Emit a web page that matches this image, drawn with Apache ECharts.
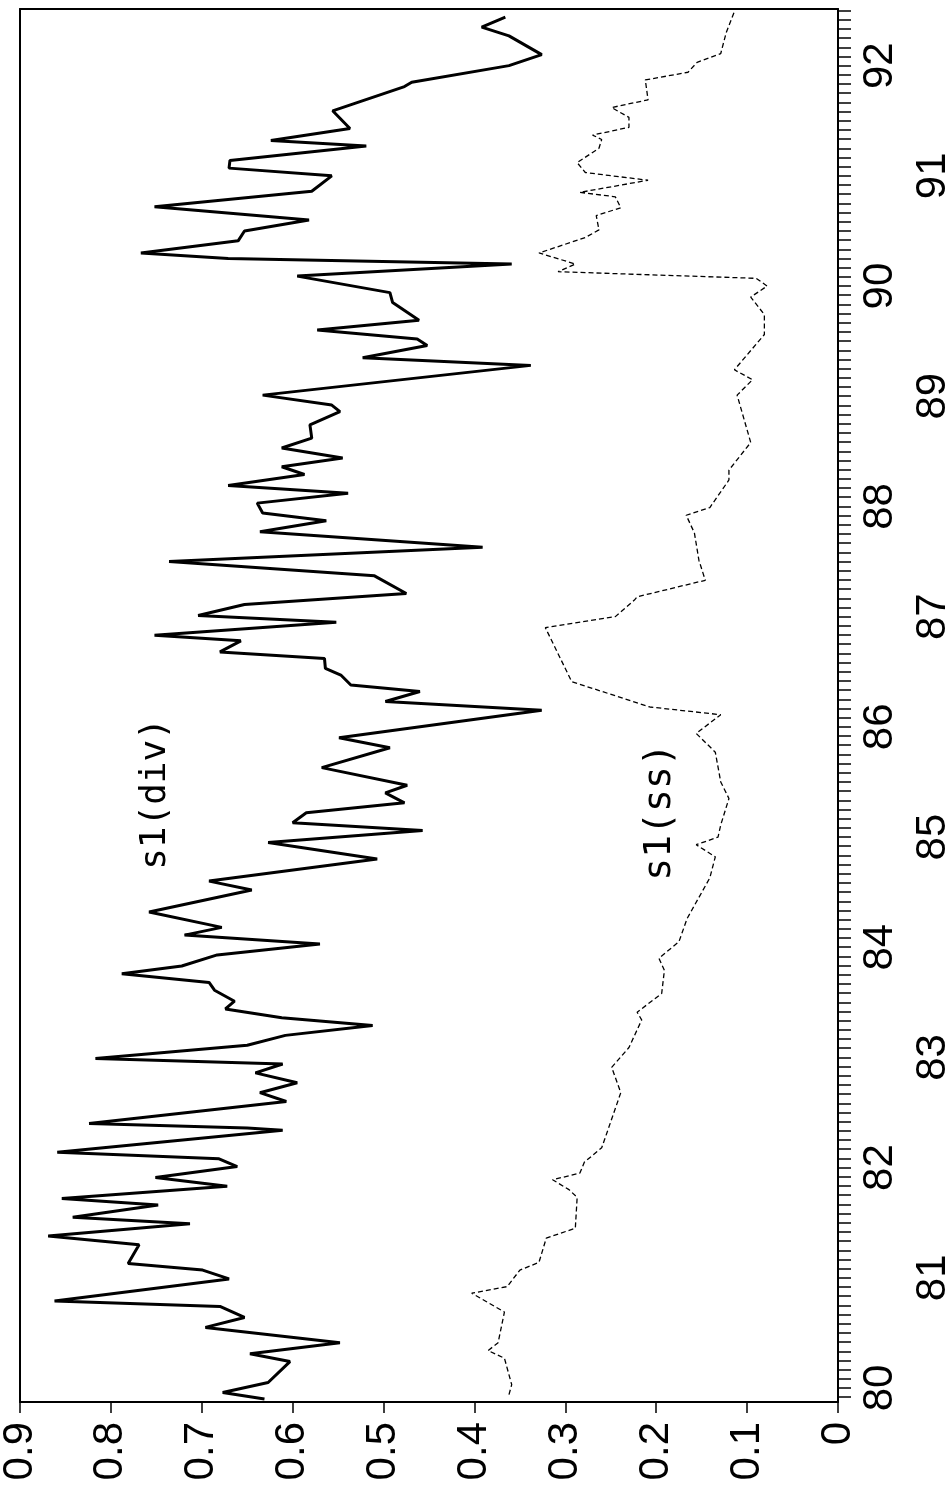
<!DOCTYPE html>
<html>
<head>
<meta charset="utf-8">
<script src="https://cdn.jsdelivr.net/npm/echarts@6/dist/echarts.min.js"></script>
<style>
  html, body { margin: 0; padding: 0; background: #fff; }
  #chart { width: 951px; height: 1497px; }
</style>
</head>
<body>
<div id="chart"></div>
<script>
// s1(div): time (year) and value
const divYears = [79.90, 79.96, 80.05, 80.24, 80.31, 80.41, 80.55, 80.64, 80.74, 80.79, 80.99, 81.07, 81.13, 81.30, 81.38, 81.49, 81.55, 81.66, 81.72, 81.83, 81.91, 82.01, 82.08, 82.14, 82.34, 82.36, 82.40, 82.60, 82.68, 82.77, 82.86, 82.94, 82.99, 83.11, 83.20, 83.29, 83.36, 83.44, 83.51, 83.61, 83.68, 83.76, 83.83, 83.93, 84.03, 84.11, 84.18, 84.32, 84.52, 84.60, 84.80, 84.95, 85.06, 85.13, 85.22, 85.31, 85.40, 85.47, 85.63, 85.81, 85.90, 86.15, 86.23, 86.32, 86.38, 86.47, 86.53, 86.62, 86.68, 86.78, 86.83, 86.95, 87.01, 87.11, 87.21, 87.37, 87.50, 87.63, 87.77, 87.87, 87.94, 88.03, 88.12, 88.19, 88.29, 88.36, 88.44, 88.53, 88.62, 88.74, 88.86, 88.92, 89.01, 89.28, 89.35, 89.46, 89.52, 89.60, 89.69, 89.85, 89.94, 90.09, 90.20, 90.25, 90.30, 90.41, 90.50, 90.60, 90.72, 90.86, 91.00, 91.07, 91.14, 91.27, 91.32, 91.43, 91.59, 91.81, 91.85, 92.00, 92.10, 92.27, 92.35, 92.44];
const divValues = [0.631, 0.677, 0.627, 0.603, 0.647, 0.548, 0.696, 0.653, 0.680, 0.862, 0.670, 0.699, 0.781, 0.769, 0.869, 0.713, 0.842, 0.748, 0.854, 0.672, 0.751, 0.661, 0.681, 0.859, 0.611, 0.650, 0.824, 0.607, 0.636, 0.595, 0.641, 0.611, 0.817, 0.650, 0.608, 0.512, 0.612, 0.674, 0.664, 0.686, 0.692, 0.788, 0.722, 0.683, 0.570, 0.719, 0.678, 0.758, 0.645, 0.692, 0.507, 0.627, 0.457, 0.600, 0.585, 0.477, 0.498, 0.474, 0.568, 0.493, 0.549, 0.326, 0.498, 0.460, 0.536, 0.547, 0.564, 0.565, 0.680, 0.657, 0.752, 0.552, 0.704, 0.653, 0.475, 0.510, 0.736, 0.391, 0.636, 0.563, 0.633, 0.639, 0.539, 0.671, 0.587, 0.612, 0.545, 0.612, 0.579, 0.581, 0.548, 0.557, 0.633, 0.338, 0.523, 0.452, 0.463, 0.573, 0.461, 0.490, 0.493, 0.595, 0.359, 0.671, 0.767, 0.660, 0.653, 0.582, 0.752, 0.579, 0.557, 0.670, 0.669, 0.519, 0.624, 0.537, 0.556, 0.477, 0.469, 0.362, 0.326, 0.362, 0.392, 0.366];

// s1(ss): time (year) and value
const ssYears = [79.94, 80.03, 80.27, 80.34, 80.41, 80.69, 80.86, 80.92, 81.07, 81.14, 81.36, 81.45, 81.73, 81.80, 81.89, 81.95, 82.05, 82.18, 82.25, 82.68, 82.91, 83.09, 83.34, 83.41, 83.58, 83.79, 83.90, 84.05, 84.26, 84.63, 84.82, 84.93, 85.00, 85.11, 85.35, 85.50, 85.77, 85.94, 86.11, 86.18, 86.41, 86.90, 87.00, 87.15, 87.18, 87.33, 87.51, 87.76, 87.92, 87.99, 88.24, 88.33, 88.58, 89.01, 89.15, 89.24, 89.56, 89.74, 89.90, 90.00, 90.07, 90.13, 90.20, 90.30, 90.44, 90.51, 90.64, 90.71, 90.81, 90.85, 90.96, 91.03, 91.12, 91.25, 91.33, 91.37, 91.44, 91.53, 91.62, 91.69, 91.87, 91.94, 92.03, 92.11, 92.30, 92.49];
const ssValues = [0.362, 0.359, 0.367, 0.385, 0.374, 0.367, 0.403, 0.364, 0.350, 0.329, 0.321, 0.289, 0.287, 0.296, 0.314, 0.284, 0.279, 0.260, 0.257, 0.239, 0.249, 0.230, 0.216, 0.221, 0.194, 0.191, 0.197, 0.175, 0.166, 0.141, 0.135, 0.156, 0.132, 0.129, 0.120, 0.129, 0.135, 0.156, 0.129, 0.207, 0.293, 0.322, 0.245, 0.224, 0.221, 0.146, 0.153, 0.158, 0.167, 0.141, 0.120, 0.120, 0.096, 0.111, 0.094, 0.114, 0.081, 0.081, 0.096, 0.078, 0.090, 0.308, 0.289, 0.329, 0.278, 0.263, 0.266, 0.239, 0.245, 0.284, 0.209, 0.278, 0.287, 0.263, 0.260, 0.270, 0.230, 0.230, 0.249, 0.209, 0.212, 0.165, 0.155, 0.129, 0.123, 0.114];

// tick labels
const valueTicks = [0, 0.1, 0.2, 0.3, 0.4, 0.5, 0.6, 0.7, 0.8, 0.9];
const evenYears = [80, 82, 84, 86, 88, 90, 92];
const oddYears = [81, 83, 85, 87, 89, 91];

// monthly ticks on the time axis
const monthTicks = [];
for (let m = 80 * 12 - 1; m <= 92.5 * 12; m++) monthTicks.push(m / 12);

const tMin = 79.873;
const tMax = 92.514;

const chart = echarts.init(document.getElementById('chart'));

const labelFont = {
  color: '#000',
  fontSize: 42,
  fontFamily: '"Liberation Sans", Arial, sans-serif',
  rotate: 90
};

chart.setOption({
  backgroundColor: '#fff',
  animation: false,
  grid: {
    left: 20,
    right: 113,
    top: 9,
    bottom: 95,
    containLabel: false,
    outerBoundsMode: 'none'
  },
  xAxis: [
    {
      type: 'value',
      position: 'bottom',
      inverse: true,
      min: 0,
      max: 0.9,
      interval: 0.1,
      splitLine: { show: false },
      axisLine: { show: true, lineStyle: { color: '#000', width: 2 } },
      axisTick: { show: true, inside: false, length: 11, lineStyle: { color: '#000', width: 1.5 } },
      axisLabel: Object.assign({}, labelFont, {
        margin: 20,
        customValues: valueTicks,
        formatter: function (v) { return v === 0 ? '0' : v.toFixed(1); }
      })
    },
    {
      type: 'value',
      position: 'top',
      inverse: true,
      min: 0,
      max: 0.9,
      splitLine: { show: false },
      axisLine: { show: true, lineStyle: { color: '#000', width: 2 } },
      axisTick: { show: false },
      axisLabel: { show: false }
    }
  ],
  yAxis: [
    {
      type: 'value',
      position: 'right',
      min: tMin,
      max: tMax,
      splitLine: { show: false },
      axisLine: { show: true, lineStyle: { color: '#000', width: 2 } },
      axisTick: {
        show: true,
        inside: false,
        length: 13,
        customValues: monthTicks,
        lineStyle: { color: '#000', width: 1.5 }
      },
      axisLabel: Object.assign({}, labelFont, {
        margin: 21,
        customValues: evenYears,
        formatter: function (v) { return String(Math.round(v)); }
      })
    },
    {
      type: 'value',
      position: 'right',
      min: tMin,
      max: tMax,
      splitLine: { show: false },
      axisLine: { show: false },
      axisTick: { show: false },
      axisLabel: Object.assign({}, labelFont, {
        margin: 74,
        customValues: oddYears,
        formatter: function (v) { return String(Math.round(v)); }
      })
    },
    {
      type: 'value',
      position: 'left',
      min: tMin,
      max: tMax,
      splitLine: { show: false },
      axisLine: { show: true, lineStyle: { color: '#000', width: 2 } },
      axisTick: { show: false },
      axisLabel: { show: false }
    }
  ],
  series: [
    {
      name: 's1(div)',
      type: 'line',
      xAxisIndex: 0,
      yAxisIndex: 0,
      showSymbol: false,
      symbol: 'none',
      lineStyle: { color: '#000', width: 3 },
      data: divYears.map(function (t, i) { return [divValues[i], t]; })
    },
    {
      name: 's1(ss)',
      type: 'line',
      xAxisIndex: 0,
      yAxisIndex: 0,
      showSymbol: false,
      symbol: 'none',
      lineStyle: { color: '#000', width: 1.3, type: [5, 3] },
      data: ssYears.map(function (t, i) { return [ssValues[i], t]; })
    }
  ],
  graphic: [
    {
      type: 'text',
      x: 156,
      y: 794,
      rotation: Math.PI / 2,
      style: {
        text: 's1(div)',
        font: '36px "DejaVu Sans Mono", monospace',
        fill: '#000',
        align: 'center',
        verticalAlign: 'middle',
        textAlign: 'center',
        textVerticalAlign: 'middle'
      }
    },
    {
      type: 'text',
      x: 660,
      y: 812,
      rotation: Math.PI / 2,
      style: {
        text: 's1(ss)',
        font: '38px "DejaVu Sans Mono", monospace',
        fill: '#000',
        align: 'center',
        verticalAlign: 'middle',
        textAlign: 'center',
        textVerticalAlign: 'middle'
      }
    }
  ]
});
</script>
</body>
</html>
